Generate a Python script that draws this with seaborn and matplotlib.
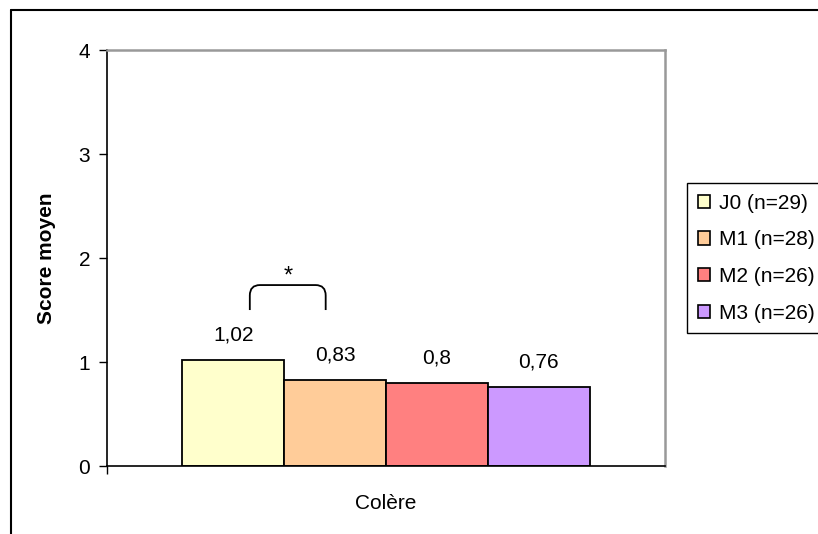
import numpy as np
import pandas as pd
import seaborn as sns
import matplotlib
matplotlib.use('Agg')
from matplotlib import pyplot as plt
from matplotlib.path import Path
from matplotlib.patches import PathPatch, Patch
from matplotlib.lines import Line2D

# data
category = ['Colère']
groups = ['J0 (n=29)', 'M1 (n=28)', 'M2 (n=26)', 'M3 (n=26)']
scores = [1.02, 0.83, 0.80, 0.76]
colors = ['#FFFFCC', '#FFCC99', '#FF8080', '#CC99FF']
yticks = [0, 1, 2, 3, 4]

df = pd.DataFrame({'cat': category * len(groups), 'groupe': groups, 'score': scores})

sns.set_style('white')
plt.rcParams['font.family'] = ['Liberation Sans', 'DejaVu Sans']
plt.rcParams['text.color'] = 'black'
plt.rcParams['axes.labelcolor'] = 'black'
plt.rcParams['xtick.color'] = 'black'
plt.rcParams['ytick.color'] = 'black'
fs = 15

fig = plt.figure(figsize=(8.18, 5.34), dpi=100)
ax = fig.add_axes([0.1308, 0.1273, 0.682, 0.779])

sns.barplot(data=df, x='cat', y='score', hue='groupe', hue_order=groups,
            palette=colors, width=0.73, edgecolor='black', linewidth=1.3,
            saturation=1, legend=False, ax=ax)

ax.set_xlim(-0.5, 0.5)
ax.set_ylim(0, 4)
ax.set_yticks(yticks)
ax.set_yticklabels([str(t) for t in yticks], fontsize=fs)
ax.tick_params(axis='y', direction='out', length=6, width=1, left=True, pad=6)
ax.tick_params(axis='x', length=0, pad=20, labelsize=fs)
ax.set_xticks([-0.5], minor=True)
ax.tick_params(axis='x', which='minor', length=6, width=1, bottom=True)
ax.set_xlabel('')
ax.set_ylabel('Score moyen', fontsize=fs, fontweight='bold', labelpad=16)

for side in ['left', 'bottom']:
    ax.spines[side].set_color('black')
    ax.spines[side].set_linewidth(1.2)
for side in ['top', 'right']:
    ax.spines[side].set_visible(True)
    ax.spines[side].set_color('#999999')
    ax.spines[side].set_linewidth(1.8)

# value labels
for cont, v in zip(ax.containers, scores):
    ax.bar_label(cont, labels=[f'{v:g}'.replace('.', ',')], padding=11, fontsize=fs)

# significance bracket between J0 and M1
x0, x1, yb, yt = -0.244, -0.108, 1.5, 1.74
verts = [(x0, yb), (x0, yt - 0.1), (x0, yt), (x0 + 0.018, yt),
         (x1 - 0.018, yt), (x1, yt), (x1, yt - 0.1), (x1, yb)]
codes = [Path.MOVETO, Path.LINETO, Path.CURVE3, Path.CURVE3,
         Path.LINETO, Path.CURVE3, Path.CURVE3, Path.LINETO]
ax.add_patch(PathPatch(Path(verts, codes), fill=False, edgecolor='black', lw=1.3))
ax.text((x0 + x1) / 2, 1.82, '*', ha='center', va='center', fontsize=fs + 2)

# legend
handles = [Patch(facecolor=c, edgecolor='black', linewidth=1.2) for c in colors]
leg = fig.legend(handles, groups, loc='upper left', bbox_to_anchor=(0.84, 0.657),
                 bbox_transform=fig.transFigure, fontsize=fs, frameon=True,
                 fancybox=False, edgecolor='black', framealpha=1,
                 handlelength=0.6, handleheight=0.6, handletextpad=0.45,
                 labelspacing=0.85, borderpad=0.5, borderaxespad=0)
leg.get_frame().set_linewidth(1.0)

# outer chart frame
fig.add_artist(Line2D([11 / 818, 1], [1 - 10 / 534, 1 - 10 / 534],
                      transform=fig.transFigure, color='black', lw=1.5))
fig.add_artist(Line2D([11 / 818, 11 / 818], [0, 1 - 10 / 534],
                      transform=fig.transFigure, color='black', lw=1.5))

fig.savefig('out.png', dpi=100)
